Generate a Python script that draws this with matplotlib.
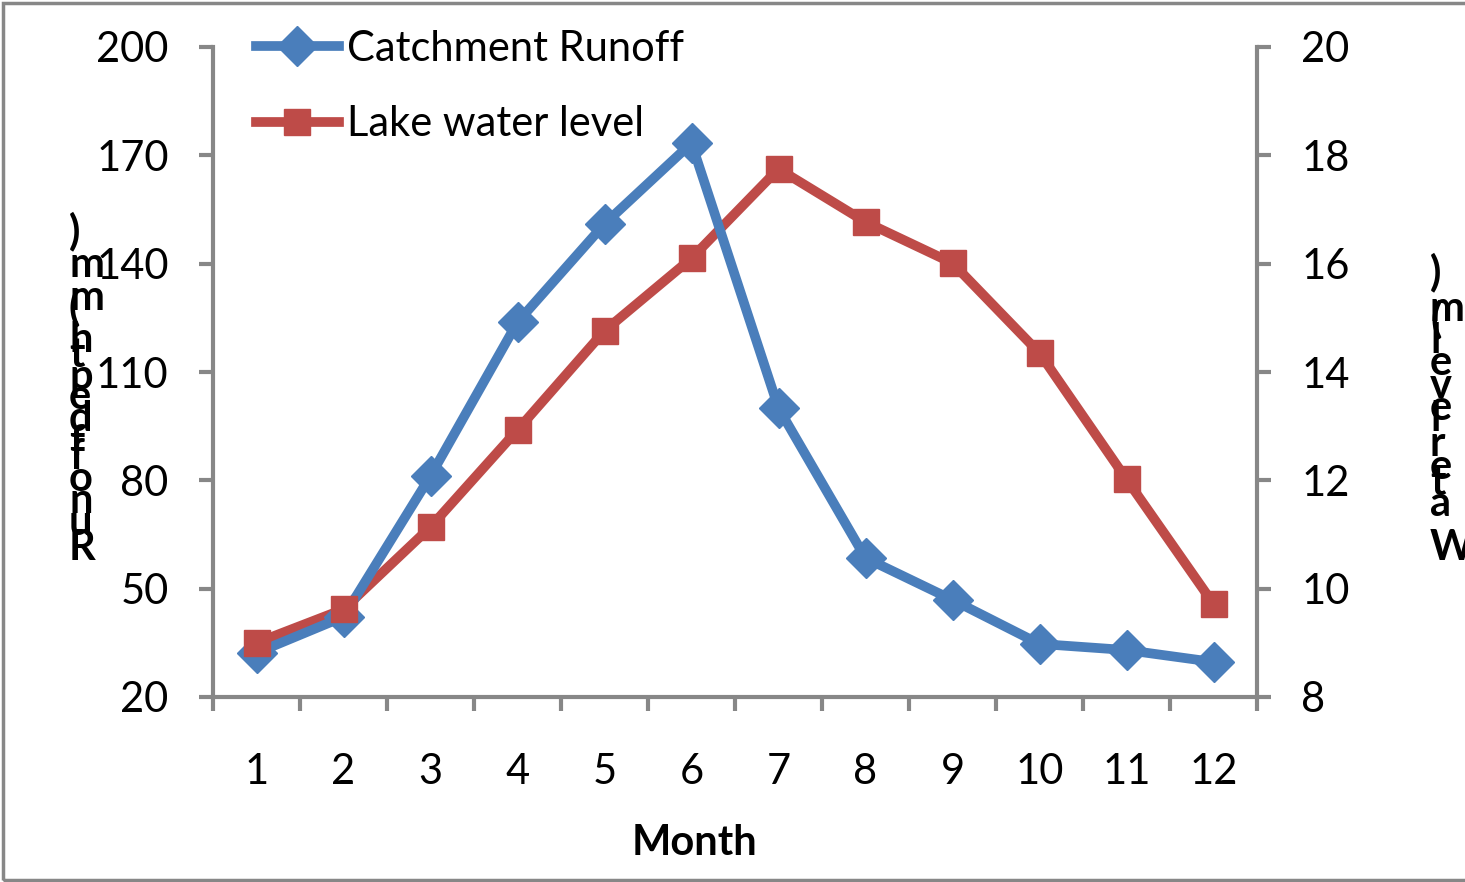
import matplotlib
matplotlib.use("Agg")
import matplotlib.pyplot as plt
from matplotlib.lines import Line2D

plt.rcParams['font.family'] = ['Lato', 'DejaVu Sans']

months = [1, 2, 3, 4, 5, 6, 7, 8, 9, 10, 11, 12]
runoff = [32.2, 42.2, 81.2, 123.8, 151.0, 173.4, 100.0, 58.5, 46.9, 34.7, 33.0, 29.7]
lake_level = [9.0, 9.62, 11.14, 12.93, 14.76, 16.1, 17.75, 16.77, 16.01, 14.35, 12.02, 9.72]
left_ticks = [20, 50, 80, 110, 140, 170, 200]
right_ticks = [8, 10, 12, 14, 16, 18, 20]

W, H = 1465, 882
BLUE = '#4A7EBB'
RED = '#BE4B48'
GRAY = '#878787'
FS = 30
LW = 7

fig = plt.figure(figsize=(W / 100, H / 100), dpi=100)
ax = fig.add_axes([213 / W, 1 - 697 / H, (1257 - 213) / W, (697 - 47) / H])
ax2 = ax.twinx()
ax.set_zorder(ax2.get_zorder() + 1)
ax.patch.set_visible(False)

ax.set_xlim(0, 12)
ax.set_ylim(20, 200)
ax2.set_ylim(8, 20)

x = [m - 0.5 for m in months]

# red line underneath, blue series on top, red squares over everything
ax2.plot(x, lake_level, color=RED, lw=LW, zorder=2, solid_joinstyle='round')
ax.plot(x, runoff, color=BLUE, lw=LW, zorder=3, solid_joinstyle='round')
ax.plot(x, runoff, ls='none', marker='D', ms=20, color=BLUE, zorder=4)
ax.plot(x, lake_level, ls='none', marker='s', ms=19, color=RED, zorder=5,
        transform=ax2.transData)

ax.set_xlim(0, 12)
ax.set_ylim(20, 200)
ax.set_yticks(left_ticks)
ax2.set_yticks(right_ticks)
ax.set_xticks(range(13))
ax.set_xticklabels([])
ax.set_xticks(x, minor=True)
ax.set_xticklabels([str(m) for m in months], minor=True)

for a in (ax, ax2):
    for s in a.spines.values():
        s.set_visible(False)
ax.spines['left'].set_visible(True)
ax.spines['bottom'].set_visible(True)
ax2.spines['right'].set_visible(True)
for s in (ax.spines['left'], ax.spines['bottom'], ax2.spines['right']):
    s.set_color(GRAY)
    s.set_linewidth(3)

ax.tick_params(axis='y', direction='out', length=10, width=3, color=GRAY,
               labelsize=FS, pad=22)
ax2.tick_params(axis='y', direction='out', length=10, width=3, color=GRAY,
                labelsize=FS, pad=22)
ax.tick_params(axis='x', which='major', direction='out', length=10, width=3, color=GRAY)
ax.tick_params(axis='x', which='minor', length=0, labelsize=FS, pad=40)

ax.set_xlabel('Month', fontsize=FS, fontweight='bold', labelpad=22)
ax.xaxis.set_label_coords(0.461, -0.195)

handles = [
    Line2D([], [], color=BLUE, lw=LW, marker='D', ms=20),
    Line2D([], [], color=RED, lw=LW, marker='s', ms=19),
]
ax.legend(handles, ['Catchment Runoff', 'Lake water level'], loc='upper left',
          bbox_to_anchor=(0.025, 1.052), frameon=False, fontsize=FS,
          handlelength=2.0, handletextpad=0.2, labelspacing=0.9,
          borderaxespad=0)


def stacked_label(text, x_px, y_px, step):
    # letters stacked upward, each upright, advancing by its own width
    r = fig.canvas.get_renderer()
    y = y_px
    for ch in text:
        t = fig.text(x_px / W, 1 - y / H, ch, fontsize=FS, fontweight='bold',
                     ha='left', va='baseline')
        y -= t.get_window_extent(renderer=r).width * step


stacked_label('Runoff depth (mm)', 69, 560, 0.935)
stacked_label('Water level (m)', 1430, 560, 1.01)

# chart area border
fig.add_artist(plt.Rectangle((3 / W, 2 / H), 1.2, 1 - 5 / H, transform=fig.transFigure,
                             fill=False, ec=GRAY, lw=2.5))

fig.savefig('out.png', dpi=100)
